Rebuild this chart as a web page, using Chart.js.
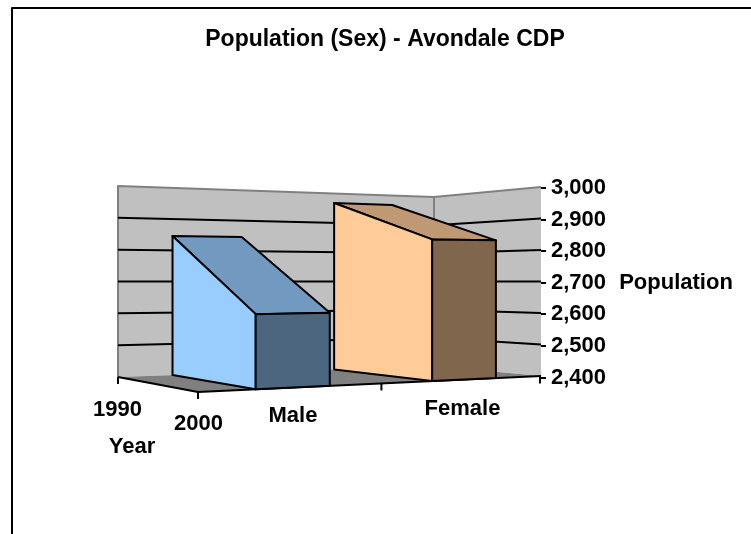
<!DOCTYPE html>
<html>
<head>
<meta charset="utf-8">
<style>
  html, body { margin: 0; background: #fff; }
  canvas { display: block; }
</style>
<script src="https://cdn.jsdelivr.net/npm/chart.js@4"></script>
</head>
<body>
<canvas id="stat" width="751" height="534"></canvas>
<script>
const categories = ["Male", "Female"];
const years = ["1990", "2000"];
const values1990 = [2845, 2966];
const values2000 = [2612, 2828];

const yMin = 2400;
const yMax = 3000;
const yStep = 100;

const fontName = '"Liberation Sans", Arial, sans-serif';
const labelFont = `bold 22px ${fontName}`;

// floor corners of the 3d box, u runs along the categories, v runs back in depth
const front = [198, 392];
const right = [541, 376];
const back = [434, 366];
const left = [118, 377];
// wall height in px at each corner
const hFront = 217, hRight = 189, hBack = 168, hLeft = 191;

const den = (right[0] - back[0]) * (left[1] - back[1]) - (left[0] - back[0]) * (right[1] - back[1]);
const sx = front[0] - right[0] + back[0] - left[0];
const sy = front[1] - right[1] + back[1] - left[1];
const g = (sx * (left[1] - back[1]) - (left[0] - back[0]) * sy) / den;
const h = ((right[0] - back[0]) * sy - sx * (right[1] - back[1])) / den;

// t is 0 on the floor and 1 at the top of the value axis
function project(u, v, t) {
  const w = g * u + h * v + 1;
  const x = ((right[0] - front[0] + g * right[0]) * u + (left[0] - front[0] + h * left[0]) * v + front[0]) / w;
  const y = ((right[1] - front[1] + g * right[1]) * u + (left[1] - front[1] + h * left[1]) * v + front[1]) / w;
  const inv = 1 / hFront + u * (1 / hRight - 1 / hFront) + v * (1 / hLeft - 1 / hFront);
  return [x, y - t / inv];
}

function poly(ctx, pts, fill, stroke, width) {
  ctx.beginPath();
  pts.forEach((p, i) => (i ? ctx.lineTo(p[0], p[1]) : ctx.moveTo(p[0], p[1])));
  ctx.closePath();
  if (fill) {
    ctx.fillStyle = fill;
    ctx.fill();
  }
  if (stroke) {
    ctx.strokeStyle = stroke;
    ctx.lineWidth = width;
    ctx.stroke();
  }
}

function line(ctx, pts, color, width) {
  ctx.beginPath();
  pts.forEach((p, i) => (i ? ctx.lineTo(p[0], p[1]) : ctx.moveTo(p[0], p[1])));
  ctx.strokeStyle = color;
  ctx.lineWidth = width;
  ctx.stroke();
}

// where each box sits along u, at the front and at the back
const boxFront = [[0.135, 0.325], [0.624, 0.836]];
const boxBack = [[0.143, 0.34], [0.634, 0.84]];
const boxColors = [
  { side: "#99CCFF", top: "#7299BF", end: "#4C6680" },
  { side: "#FFCC99", top: "#BF9973", end: "#7F664C" },
];

const box3d = {
  id: "box3d",
  beforeDatasetsDraw(chart) {
    const ctx = chart.ctx;
    const scale = chart.scales.y;
    const frac = (px) => (scale.bottom - px) / (scale.bottom - scale.top);

    ctx.save();
    ctx.lineJoin = "round";

    // outer frame, open on the right and bottom
    line(ctx, [[12, 534], [12, 8], [751, 8]], "#000", 2);

    // walls
    poly(ctx, [project(0, 1, 0), project(0, 1, 1), project(1, 1, 1), project(1, 1, 0)], "#C0C0C0");
    poly(ctx, [project(1, 1, 0), project(1, 1, 1), project(1, 0, 1), project(1, 0, 0)], "#C0C0C0");
    line(ctx, [project(0, 1, 0), project(0, 1, 1), project(1, 1, 1), project(1, 0, 1)], "#808080", 2);
    line(ctx, [project(1, 1, 0), project(1, 1, 1)], "#808080", 2);

    // floor
    poly(ctx, [project(0, 0, 0), project(1, 0, 0), project(1, 1, 0), project(0, 1, 0)], "#808080");

    // gridlines follow the value axis ticks around the walls
    scale.ticks.forEach((tick) => {
      const t = frac(scale.getPixelForValue(tick.value));
      if (t <= 0 || t >= 1) return;
      line(ctx, [project(0, 1, t), project(1, 1, t), project(1, 0, t)], "#000", 2);
    });

    // floor edges and their tick marks
    line(ctx, [project(0, 1, 0), project(0, 0, 0), project(1, 0, 0)], "#000", 2);
    [project(0, 1, 0), project(0, 0, 0), project(0.47, 0, 0)].forEach((p) => {
      line(ctx, [p, [p[0], p[1] + 7]], "#000", 2);
    });

    // one box per category, its top slopes from the 1990 value down to the 2000 value
    categories.forEach((cat, i) => {
      const t1990 = frac(chart.getDatasetMeta(0).data[i].y);
      const t2000 = frac(chart.getDatasetMeta(1).data[i].y);
      const [f0, f1] = boxFront[i];
      const [b0, b1] = boxBack[i];
      const c = boxColors[i];
      poly(ctx, [project(b0, 1, t1990), project(b1, 1, t1990), project(f1, 0, t2000), project(f0, 0, t2000)], c.top, "#000", 2);
      poly(ctx, [project(b0, 1, 0), project(b0, 1, t1990), project(f0, 0, t2000), project(f0, 0, 0)], c.side, "#000", 2);
      poly(ctx, [project(f0, 0, 0), project(f0, 0, t2000), project(f1, 0, t2000), project(f1, 0, 0)], c.end, "#000", 2);
    });

    ctx.restore();
  },
  afterDraw(chart) {
    const ctx = chart.ctx;
    const scale = chart.scales.y;
    ctx.save();
    // value axis runs a little past its last tick
    line(ctx, [[scale.left, scale.bottom], [scale.left, scale.bottom + 6]], "#000", 2);
    ctx.font = labelFont;
    ctx.fillStyle = "#000";
    ctx.textAlign = "center";
    ctx.textBaseline = "middle";
    ctx.fillText(years[0], 117.5, 410);
    ctx.fillText(years[1], 198.5, 424);
    ctx.fillText(categories[0], 293, 416);
    ctx.fillText(categories[1], 462.5, 409);
    ctx.fillText("Year", 132, 447);
    ctx.fillText("Population", 676, 283);
    ctx.restore();
  },
};

new Chart(document.getElementById("stat"), {
  type: "bar",
  data: {
    labels: categories,
    datasets: [
      { label: years[0], data: values1990, backgroundColor: "rgba(0,0,0,0)" },
      { label: years[1], data: values2000, backgroundColor: "rgba(0,0,0,0)" },
    ],
  },
  options: {
    responsive: false,
    animation: false,
    layout: { padding: { left: 19, bottom: 156.5 } },
    plugins: {
      legend: { display: false },
      tooltip: { enabled: false },
      title: {
        display: true,
        text: "Population (Sex) - Avondale CDP",
        color: "#000",
        font: { family: fontName, size: 23, weight: "bold" },
        padding: { top: 26, bottom: 134.5 },
      },
    },
    scales: {
      x: { display: false },
      y: {
        position: "right",
        min: yMin,
        max: yMax,
        afterFit: (s) => { s.width = 211; },
        ticks: {
          stepSize: yStep,
          color: "#000",
          padding: 5,
          font: { family: fontName, size: 22, weight: "bold" },
          callback: (v) => v.toLocaleString("en-US"),
        },
        grid: { drawOnChartArea: false, color: "#000", lineWidth: 2, tickLength: 6 },
        border: { color: "#000", width: 2 },
      },
    },
  },
  plugins: [box3d],
});
</script>
</body>
</html>
